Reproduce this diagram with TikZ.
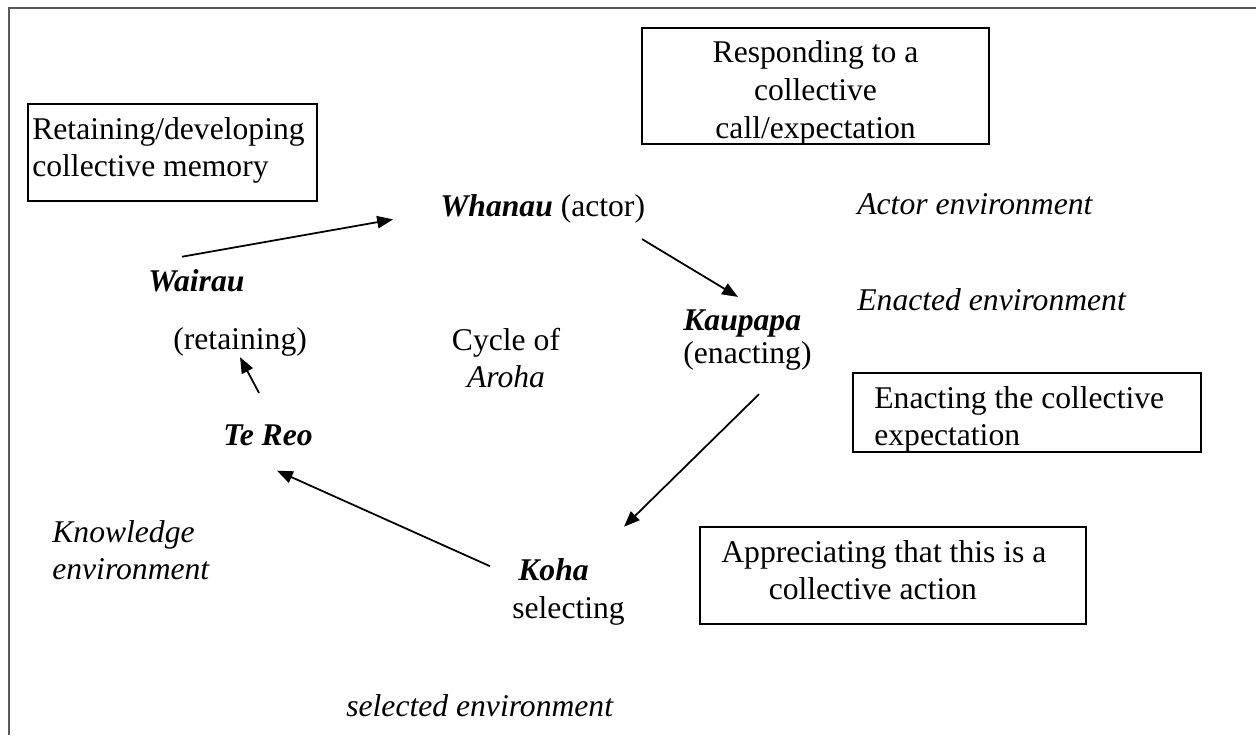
\documentclass[tikz,border=0pt]{standalone}
\usepackage{fontspec}
\setmainfont{Liberation Serif}
\usetikzlibrary{arrows.meta,
    calc}

\tikzset{
  word/.style={inner sep=0pt, anchor=base west},
  stack/.style={inner sep=0pt, align=left, anchor=north west},
  memo/.style={draw, line width=1.5pt, inner sep=0pt},
  flow/.style={-{Triangle[length=9pt,width=7pt]}, line width=1pt},
}
\newcommand{\maori}[1]{\textbf{\textit{#1}}}

\begin{document}
\begin{tikzpicture}[x=0.02cm, y=-0.02cm, font=\fontsize{18}{21}\selectfont]
                  \useasboundingbox (0,0) rectangle (1256,735);
                  % page frame, open at right and bottom
                  \draw[black!65, line width=1.2pt] (9,735) -- (9,8) -- (1256,8);

                  % boxes
                  \node[memo, minimum width=5.78cm, minimum height=1.94cm] (memorybox) at (172.5,152.5) {};
                  \node[stack] (memorytext) at (32,117) {Retaining/developing\\collective memory};
                  \node[memo, minimum width=6.94cm, minimum height=2.32cm] (respondbox) at (815.5,86) {};
                  \node[inner sep=0pt, anchor=north, align=center, font=\fontsize{18}{21.6}\selectfont] (respondtext) at (815.5,40) {Responding to a\\collective\\call/expectation};
                  \node[memo, minimum width=6.96cm, minimum height=1.58cm] (enactbox) at (1027,412.5) {};
                  \node[stack] (enacttext) at (874,386) {Enacting the collective\\expectation};
                  \node[memo, minimum width=7.72cm, minimum height=1.94cm] (appreciatebox) at (893,575.5) {};
                  \node[stack] (appreciatetext) at (721,540) {Appreciating that this is a\\\hspace*{1.5em}collective action};

                  % cycle
                  \node[word] (whanau) at (440,216) {\maori{Whanau} (actor)};
                  \node[word] (wairau) at (148,291) {\maori{Wairau}};
                  \node[word] (retaining) at (173,349) {(retaining)};
                  \node[word] (kaupapa) at (683,330) {\maori{Kaupapa}};
                  \node[word] (enacting) at (683,363) {(enacting)};
                  \node[word] (tereo) at (223,445) {\maori{Te Reo}};
                  \node[word] (koha) at (518,580) {\maori{Koha}};
                  \node[word] (selecting) at (512,618) {selecting};
                  \node[inner sep=0pt, align=center, anchor=north] (cycle) at (506,328) {Cycle of\\\textit{Aroha}};

                  % environments
                  \node[word] (actorenv) at (857,214) {\textit{Actor environment}};
                  \node[word] (enactedenv) at (857,310) {\textit{Enacted environment}};
                  \node[stack] (knowledge) at (52,520) {\textit{Knowledge}\\\textit{environment}};
                  \node[word] (selectedenv) at (346,716) {\textit{selected environment}};

                  \draw[flow] ($(wairau.north west)+(34,-12)$) -- ($(whanau.west)+(-47,11)$);
                  \draw[flow] ($(whanau.south west)+(202,16)$) -- ($(kaupapa.north west)+(55,-12)$);
                  \draw[flow] ($(enacting.south west)+(76,24)$) -- ($(koha.north east)+(35,-31)$);
                  \draw[flow] ($(koha.west)+(-28,-3)$) -- ($(tereo.south)+(9,25)$);
                  \draw[flow] ($(tereo.north west)+(36,-31)$) -- ($(retaining.south west)+(67,1)$);
              \end{tikzpicture}
\end{document}
